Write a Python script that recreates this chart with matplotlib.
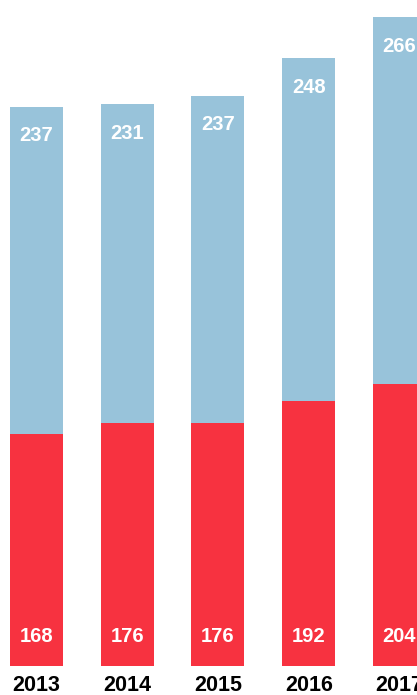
import matplotlib
matplotlib.use("Agg")
import matplotlib.pyplot as plt

years = ["2013", "2014", "2015", "2016", "2017"]
red_vals = [168, 176, 176, 192, 204]
blue_vals = [237, 231, 237, 248, 266]

RED = "#F73240"
BLUE = "#98C3DA"

plt.rcParams['font.family'] = ['Liberation Sans', 'DejaVu Sans']

fig = plt.figure(figsize=(4.17, 6.95), dpi=100)
ax = fig.add_axes([0, 29 / 695, 1, 666 / 695])

x = list(range(len(years)))
w = 0.584
ax.bar(x, red_vals, width=w, color=RED, linewidth=0)
ax.bar(x, blue_vals, width=w, bottom=red_vals, color=BLUE, linewidth=0)

for i, (r, b) in enumerate(zip(red_vals, blue_vals)):
    ax.annotate(str(r), xy=(i, 0), xytext=(0, 20.9), textcoords="offset points",
                ha="center", va="center", color="white", fontsize=14.5, fontweight="bold")
    ax.annotate(str(b), xy=(i, r + b), xytext=(0, -20.9), textcoords="offset points",
                ha="center", va="center", color="white", fontsize=14.5, fontweight="bold")

ax.set_xlim(-0.402, 4.193)
ax.set_ylim(0, 482.3)
ax.set_xticks(x)
ax.set_xticklabels(years, fontsize=15.5, fontweight="bold", color="black")
ax.tick_params(axis="x", length=0, pad=6.5)
ax.set_yticks([])
for s in ax.spines.values():
    s.set_visible(False)

fig.savefig("out.png", dpi=100)
